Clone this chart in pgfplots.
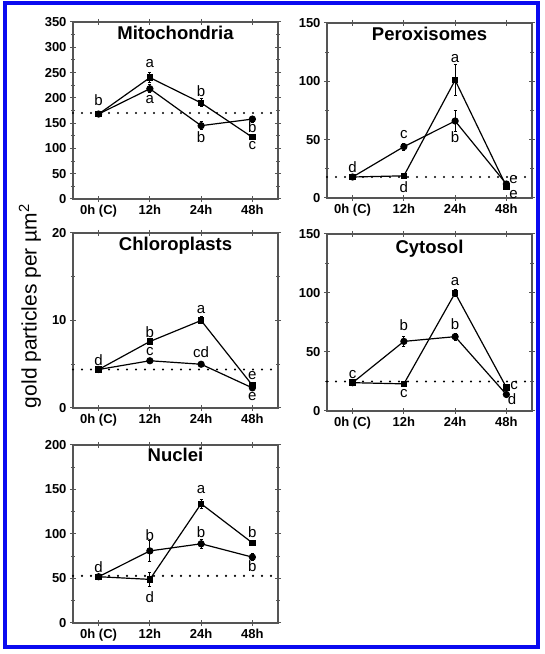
\documentclass[border=0pt]{standalone}
\usepackage{pgfplots}
\pgfplotsset{compat=1.18}
\usepackage{fontspec}
\setmainfont{Liberation Sans}
\definecolor{bord}{RGB}{10,10,240}
\definecolor{axgray}{RGB}{85,85,85}
\pgfplotsset{
  panel/.style={
    scale only axis, width=205pt, xmin=-0.5, xmax=3.5, ymin=0,
    xtick={0,1,2,3}, xticklabels={0h (C),12h,24h,48h},
    tick align=center, major tick length=6pt, minor tick length=4pt,
    axis line style={draw=axgray, line width=1.3pt},
    every tick/.append style={draw=axgray, line width=1pt},
    tick label style={font=\fontsize{13}{13}\selectfont\bfseries},
    /pgf/number format/assume math mode=true,
    minor y tick num=1, clip=false, anchor=south west,
  },
  serA/.style={black, line width=1.2pt, mark=square*, mark size=2.6pt, mark options={solid},
    error bars/.cd, y dir=both, y explicit, error bar style={line width=1pt, black},
    error mark options={rotate=90, mark size=1.5pt, line width=1pt}},
  serB/.style={black, line width=1.2pt, mark=*, mark size=3pt, mark options={solid},
    error bars/.cd, y dir=both, y explicit, error bar style={line width=1pt, black},
    error mark options={rotate=90, mark size=1.5pt, line width=1pt}},
  base/.style={black, line width=2.4pt, dash pattern=on 0pt off 9pt, line cap=round},
}
\tikzset{
  lab/.style={font=\fontsize{15}{15}\selectfont, inner sep=0pt},
  ttl/.style={font=\fontsize{18.5}{18.5}\selectfont\bfseries, anchor=north, inner sep=0pt},
}
\begin{document}
\begin{tikzpicture}
\useasboundingbox (0pt,0pt) rectangle (545pt,654pt);
\draw[bord, line width=4pt] (5pt,6.5pt) rectangle (537.5pt,650.5pt);
\node[rotate=90, font=\fontsize{21}{21}\selectfont] at (30pt,348pt) {gold particles per µm\textsuperscript{2}};

% Mitochondria
\begin{axis}[panel, at={(73pt,455pt)}, height=177pt, ymax=350, ytick={0,50,...,350}]
\addplot[base] coordinates {(-0.5,170) (3.5,170)};
\addplot[serA] coordinates {(0,168) +- (0,5) (1,240) +- (0,10) (2,190) +- (0,8) (3,122) +- (0,5)};
\addplot[serB] coordinates {(0,168) +- (0,5) (1,218) +- (0,8) (2,145) +- (0,8) (3,158) +- (0,6)};
\node[ttl] at (rel axis cs:0.5,1) [yshift=-4pt] {Mitochondria};
\node[lab] at (axis cs:0,196) {b};
\node[lab] at (axis cs:1,268) {a};
\node[lab] at (axis cs:1,196) {a};
\node[lab] at (axis cs:2,214) {b};
\node[lab] at (axis cs:2,123) {b};
\node[lab] at (axis cs:3,143) {b};
\node[lab] at (axis cs:3,106) {c};
\end{axis}

% Peroxisomes
\begin{axis}[panel, at={(327pt,456pt)}, height=175pt, ymax=150, ytick={0,50,100,150}]
\addplot[base] coordinates {(-0.5,18) (3.5,18)};
\addplot[serA] coordinates {(0,18) +- (0,2) (1,19) +- (0,2) (2,101) +- (0,13) (3,10) +- (0,2)};
\addplot[serB] coordinates {(0,18) +- (0,2) (1,44) +- (0,3) (2,66) +- (0,9) (3,12) +- (0,2)};
\node[ttl] at (rel axis cs:0.5,1) [yshift=-4pt] {Peroxisomes};
\node[lab] at (axis cs:0,26.8) {d};
\node[lab] at (axis cs:1,54) {c};
\node[lab] at (axis cs:1,9.7) {d};
\node[lab] at (axis cs:2,119.7) {a};
\node[lab] at (axis cs:2,52.5) {b};
\node[lab] at (axis cs:3.14,16) {e};
\node[lab] at (axis cs:3.14,3.2) {e};
\end{axis}

% Chloroplasts
\begin{axis}[panel, at={(73pt,246pt)}, height=175pt, ymax=20, ytick={0,10,20}]
\addplot[base] coordinates {(-0.5,4.4) (3.5,4.4)};
\addplot[serA] coordinates {(0,4.4) +- (0,0.2) (1,7.6) +- (0,0.3) (2,10) +- (0,0.4) (3,2.6) +- (0,0.2)};
\addplot[serB] coordinates {(0,4.4) +- (0,0.2) (1,5.4) +- (0,0.2) (2,5.0) +- (0,0.2) (3,2.3) +- (0,0.2)};
\node[ttl] at (rel axis cs:0.5,1) [yshift=-4pt] {Chloroplasts};
\node[lab] at (axis cs:0,5.5) {d};
\node[lab] at (axis cs:1,8.65) {b};
\node[lab] at (axis cs:1,6.43) {c};
\node[lab] at (axis cs:2,11.3) {a};
\node[lab] at (axis cs:2,6.36) {cd};
\node[lab] at (axis cs:3,3.7) {e};
\node[lab] at (axis cs:3,1.3) {e};
\end{axis}

% Cytosol
\begin{axis}[panel, at={(327pt,243pt)}, height=177pt, ymax=150, ytick={0,50,100,150}]
\addplot[base] coordinates {(-0.5,25) (3.5,25)};
\addplot[serA] coordinates {(0,24) +- (0,2) (1,23) +- (0,2) (2,100) +- (0,3) (3,20) +- (0,2)};
\addplot[serB] coordinates {(0,24) +- (0,2) (1,59) +- (0,4) (2,63) +- (0,3) (3,14) +- (0,2)};
\node[ttl] at (rel axis cs:0.5,1) [yshift=-6pt] {Cytosol};
\node[lab] at (axis cs:0,31.2) {c};
\node[lab] at (axis cs:1,73) {b};
\node[lab] at (axis cs:1,15) {c};
\node[lab] at (axis cs:2,109.8) {a};
\node[lab] at (axis cs:2,73.6) {b};
\node[lab] at (axis cs:3.15,21.5) {c};
\node[lab] at (axis cs:3.11,9.8) {d};
\end{axis}

% Nuclei
\begin{axis}[panel, at={(73pt,31pt)}, height=178pt, ymax=200, ytick={0,50,...,200}]
\addplot[base] coordinates {(-0.5,53) (3.5,53)};
\addplot[serA] coordinates {(0,52) +- (0,3) (1,49) +- (0,8) (2,134) +- (0,5) (3,90) +- (0,3)};
\addplot[serB] coordinates {(0,52) +- (0,3) (1,81) +- (0,12) (2,89) +- (0,5) (3,74) +- (0,4)};
\node[ttl] at (rel axis cs:0.5,1) [yshift=-3pt] {Nuclei};
\node[lab] at (axis cs:0,63) {d};
\node[lab] at (axis cs:1,98.8) {b};
\node[lab] at (axis cs:1,29.3) {d};
\node[lab] at (axis cs:2,149.4) {a};
\node[lab] at (axis cs:2,102.5) {b};
\node[lab] at (axis cs:3,102.5) {b};
\node[lab] at (axis cs:3,63.9) {b};
\end{axis}
\end{tikzpicture}
\end{document}
